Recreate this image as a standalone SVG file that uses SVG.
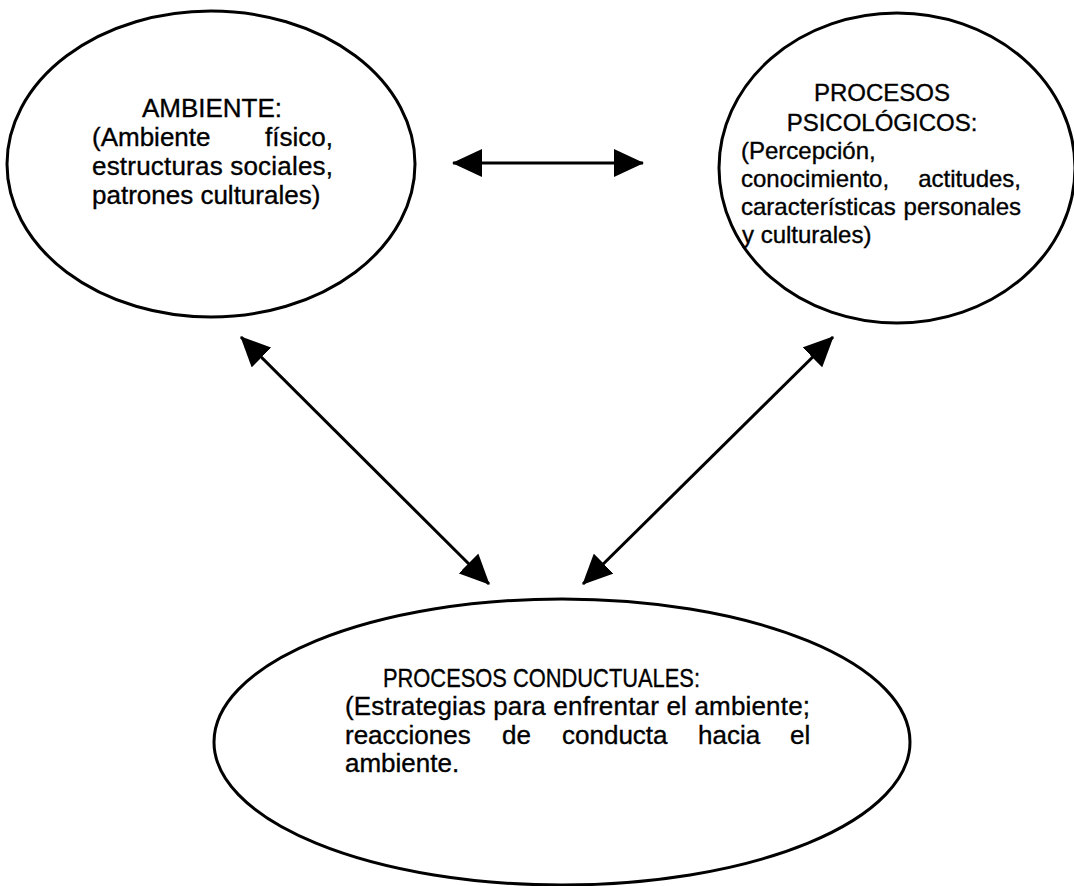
<svg xmlns="http://www.w3.org/2000/svg" width="1074" height="886" viewBox="0 0 1074 886">
  <style>
    .node { fill: #ffffff; stroke: #000000; stroke-width: 3; }
    .conn { stroke: #000000; stroke-width: 3; fill: none; }
    text { font-family: "Liberation Sans", Arial, sans-serif; fill: #000000; stroke: #000000; stroke-width: 0.35; }
    .t26 { font-size: 26px; }
    .t24 { font-size: 24px; }
  </style>
  <defs>
    <marker id="head" markerUnits="userSpaceOnUse" markerWidth="30" markerHeight="28" viewBox="0 0 30 28" refX="29" refY="14" orient="auto-start-reverse">
      <path d="M0,0 L30,14 L0,28 Z" fill="#000000"/>
    </marker>
  </defs>
  <rect width="1074" height="886" fill="#ffffff"/>

  <g id="connectors">
    <line class="conn" x1="453" y1="163" x2="643" y2="163" marker-start="url(#head)" marker-end="url(#head)"/>
    <line class="conn" x1="241" y1="337" x2="489" y2="584" marker-start="url(#head)" marker-end="url(#head)"/>
    <line class="conn" x1="833" y1="337" x2="583" y2="584" marker-start="url(#head)" marker-end="url(#head)"/>
  </g>

  <g id="ambiente">
    <ellipse class="node" cx="211" cy="164" rx="204" ry="153"/>
    <text class="t26" x="212" y="117" text-anchor="middle">AMBIENTE:</text>
    <text class="t26" x="92" y="146">(Ambiente</text>
    <text class="t26" x="333" y="146" text-anchor="end">físico,</text>
    <text class="t26" x="92" y="175" textLength="241" lengthAdjust="spacing">estructuras sociales,</text>
    <text class="t26" x="92" y="204">patrones culturales)</text>
  </g>

  <g id="procesos-psicologicos">
    <ellipse class="node" cx="897" cy="168" rx="178" ry="155"/>
    <text class="t24" x="882" y="101" text-anchor="middle">PROCESOS</text>
    <text class="t24" x="882" y="131" text-anchor="middle">PSICOLÓGICOS:</text>
    <text class="t24" x="741" y="159">(Percepción,</text>
    <text class="t24" x="741" y="187">conocimiento,</text>
    <text class="t24" x="1021" y="187" text-anchor="end">actitudes,</text>
    <text class="t24" x="741" y="215">características</text>
    <text class="t24" x="1021" y="215" text-anchor="end">personales</text>
    <text class="t24" x="742" y="243">y culturales)</text>
  </g>

  <g id="procesos-conductuales">
    <ellipse class="node" cx="562" cy="742" rx="348" ry="143"/>
    <text class="t26" x="383" y="687" textLength="317" lengthAdjust="spacingAndGlyphs">PROCESOS CONDUCTUALES:</text>
    <text class="t26" x="345" y="715" textLength="465" lengthAdjust="spacing">(Estrategias para enfrentar el ambiente;</text>
    <text class="t26" y="744"><tspan x="345">reacciones</tspan><tspan x="502">de</tspan><tspan x="562">conducta</tspan><tspan x="698">hacia</tspan><tspan x="790">el</tspan></text>
    <text class="t26" x="345" y="772">ambiente.</text>
  </g>
</svg>
